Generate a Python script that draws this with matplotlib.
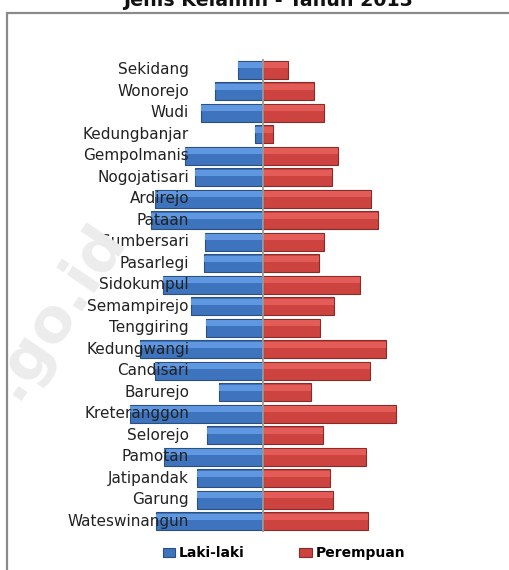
import matplotlib
matplotlib.use("Agg")
import matplotlib.pyplot as plt
from matplotlib.patches import Rectangle

W, H = 509, 570

villages = [
    "Sekidang", "Wonorejo", "Wudi", "Kedungbanjar", "Gempolmanis",
    "Nogojatisari", "Ardirejo", "Pataan", "Sumbersari", "Pasarlegi",
    "Sidokumpul", "Semampirejo", "Tenggiring", "Kedungwangi", "Candisari",
    "Barurejo", "Kreteranggon", "Selorejo", "Pamotan", "Jatipandak",
    "Garung", "Wateswinangun",
]
laki = [250, 480, 625, 80, 780, 680, 1085, 1125, 580, 590, 1000, 720,
        570, 1230, 1080, 440, 1335, 560, 990, 660, 660, 1075]
perempuan = [246, 510, 610, 100, 750, 686, 1080, 1150, 610, 560, 970, 706,
             570, 1226, 1070, 480, 1330, 600, 1030, 666, 696, 1050]

fig = plt.figure(figsize=(W / 100, H / 100), dpi=100, facecolor="white")

# ── watermark ────────────────────────────────────────────────────────────
fig.text(88 / W, 1 - 212 / H, ".go.id", ha="right", va="top",
         rotation=56, rotation_mode="anchor", fontsize=44,
         fontweight="bold", color="#ececec", zorder=0)

# ── frame and title ──────────────────────────────────────────────────────
fig.add_artist(Rectangle((7 / W, -0.1), 1.2, (H - 13) / H + 0.1,
                         transform=fig.transFigure, fill=False,
                         edgecolor="#8a8a8a", linewidth=1.6))
fig.text(268 / W, 1 - 6 / H, "Jenis Kelamin - Tahun 2013", ha="center",
         va="baseline", fontsize=13.7, fontweight="bold", color="#111111")

# ── pyramid ──────────────────────────────────────────────────────────────
ax = fig.add_axes([7 / W, 1 - 532 / H, (W - 7) / W, (532 - 59) / H])
ax.patch.set_alpha(0)
ypos = list(range(len(villages)))
left_vals = [-v for v in laki]

bh = 0.84
b1 = ax.barh(ypos, left_vals, height=bh, color="#3d74bd",
             edgecolor="#2a4f80", linewidth=0.8, zorder=2, label="Laki-laki")
b2 = ax.barh(ypos, perempuan, height=bh, color="#cc4340",
             edgecolor="#8a2b28", linewidth=0.8, zorder=2, label="Perempuan")
# bevel highlight on upper part of bars
ax.barh([y - 0.2 for y in ypos], left_vals, height=0.28, color="#5f97e0",
        linewidth=0, zorder=3)
ax.barh([y - 0.2 for y in ypos], perempuan, height=0.28, color="#e45c58",
        linewidth=0, zorder=3)

ax.axvline(0, color="#9a9a9a", linewidth=1.3, zorder=4)

for y, name in zip(ypos, villages):
    ax.text(-740, y, name, ha="right", va="center", fontsize=11,
            color="#222222", zorder=5)

ax.set_xlim(-(263 - 7) * 10, (W - 263) * 10)
ax.set_ylim(len(villages) - 0.5, -0.5)
ax.axis("off")

leg = fig.legend(handles=[b1, b2], loc="center", ncol=2,
                 bbox_to_anchor=(284 / W, 1 - 553 / H), frameon=False,
                 prop={"weight": "bold", "size": 10}, columnspacing=3.9,
                 handlelength=0.9, handleheight=0.6, handletextpad=0.3)

fig.savefig("out.png", dpi=100, facecolor="white")
